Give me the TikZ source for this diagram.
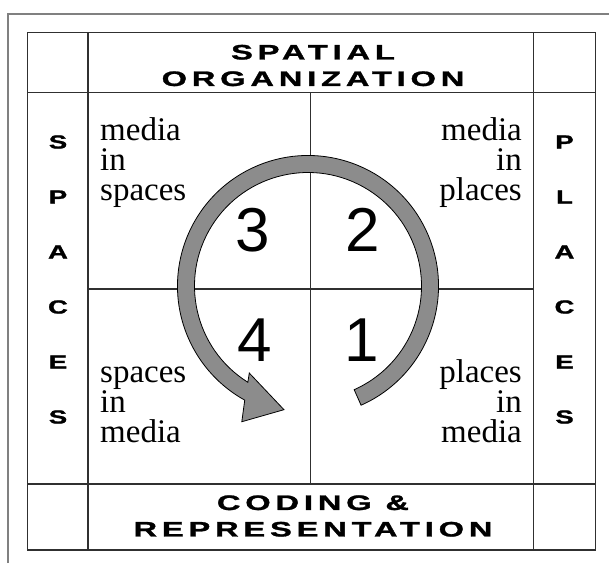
\documentclass[tikz,border=0pt]{standalone}
\usepackage{fontspec}
\setmainfont{Liberation Serif}
\newfontfamily\headfont[LetterSpace=15,FakeBold=1.2]{Liberation Sans Bold}
\newfontfamily\sidefont[FakeBold=1.2]{Liberation Sans Bold}
\newfontfamily\numfont{Liberation Sans}
\usetikzlibrary{calc}
\definecolor{framegray}{HTML}{808080}
\definecolor{rulegray}{HTML}{303030}
\definecolor{wheel}{HTML}{8C8C8C}

\begin{document}
\begin{tikzpicture}[x=1pt,y=-1pt,
  rule/.style={draw=rulegray,line width=1.3pt},
  head/.style={font=\headfont\fontsize{21}{26.5}\selectfont,align=center,inner sep=0,xscale=1.55,transform shape},
  side/.style={font=\sidefont\fontsize{19}{20}\selectfont,inner sep=0,xscale=1.45,transform shape},
  cell/.style={font=\fontsize{33}{30}\selectfont,inner sep=0},
  quad/.style={font=\numfont\fontsize{62}{62}\selectfont,inner sep=0}]
  \useasboundingbox (0,0) rectangle (609,563);
  % page frame
  \draw[framegray,line width=1.5pt] (8,563)--(8,14)--(609,14);
  % table
  \draw[rule] (27.5,32.5) rectangle (595.5,550);
  \draw[rule] (88,32.5)--(88,550);
  \draw[rule] (533.5,32.5)--(533.5,550);
  \draw[rule] (27.5,92.5)--(595.5,92.5);
  \draw[rule] (27.5,484)--(595.5,484);
  \draw[rule] (310.5,92.5)--(310.5,484);
  \draw[rule] (88,289)--(533.5,289);
  % headers
  \node[head] (hdtop) at (313,65.5) {SPATIAL\\ORGANIZATION};
  \node[head] (hdbot) at (313,516) {CODING \&\\REPRESENTATION};
  \foreach \ch [count=\i] in {S,P,A,C,E,S}{\node[side] (sp\i) at (58,87+55*\i) {\ch};}
  \foreach \ch [count=\i] in {P,L,A,C,E,S}{\node[side] (pl\i) at (564.5,87+55*\i) {\ch};}
  % cell texts
  \node[cell,align=left,anchor=base west] (ms) at (100,200) {media\\in\\spaces};
  \node[cell,align=right,anchor=base east] (mp) at (522,200) {media\\in\\places};
  \node[cell,align=left,anchor=base west] (sm) at (100,442) {spaces\\in\\media};
  \node[cell,align=right,anchor=base east] (pm) at (522,442) {places\\in\\media};
  % cycle arrow
  \begin{scope}[shift={(308,286)},yscale=-1]
    \filldraw[fill=wheel,draw=black,line width=0.8pt]
      (-66:130.5) arc[start angle=-66,end angle=241,radius=130.5]
      -- (244:151) -- (259:126) -- (236:105) -- (238:113.5)
      arc[start angle=238,end angle=-66,radius=113.5] -- cycle;
  \end{scope}
  \node[quad] (q3) at (253,230) {3};
  \node[quad] (q2) at (363,230) {2};
  \node[quad] (q4) at (255,340) {4};
  \node[quad] (q1) at (362,340) {1};
\end{tikzpicture}
\end{document}
